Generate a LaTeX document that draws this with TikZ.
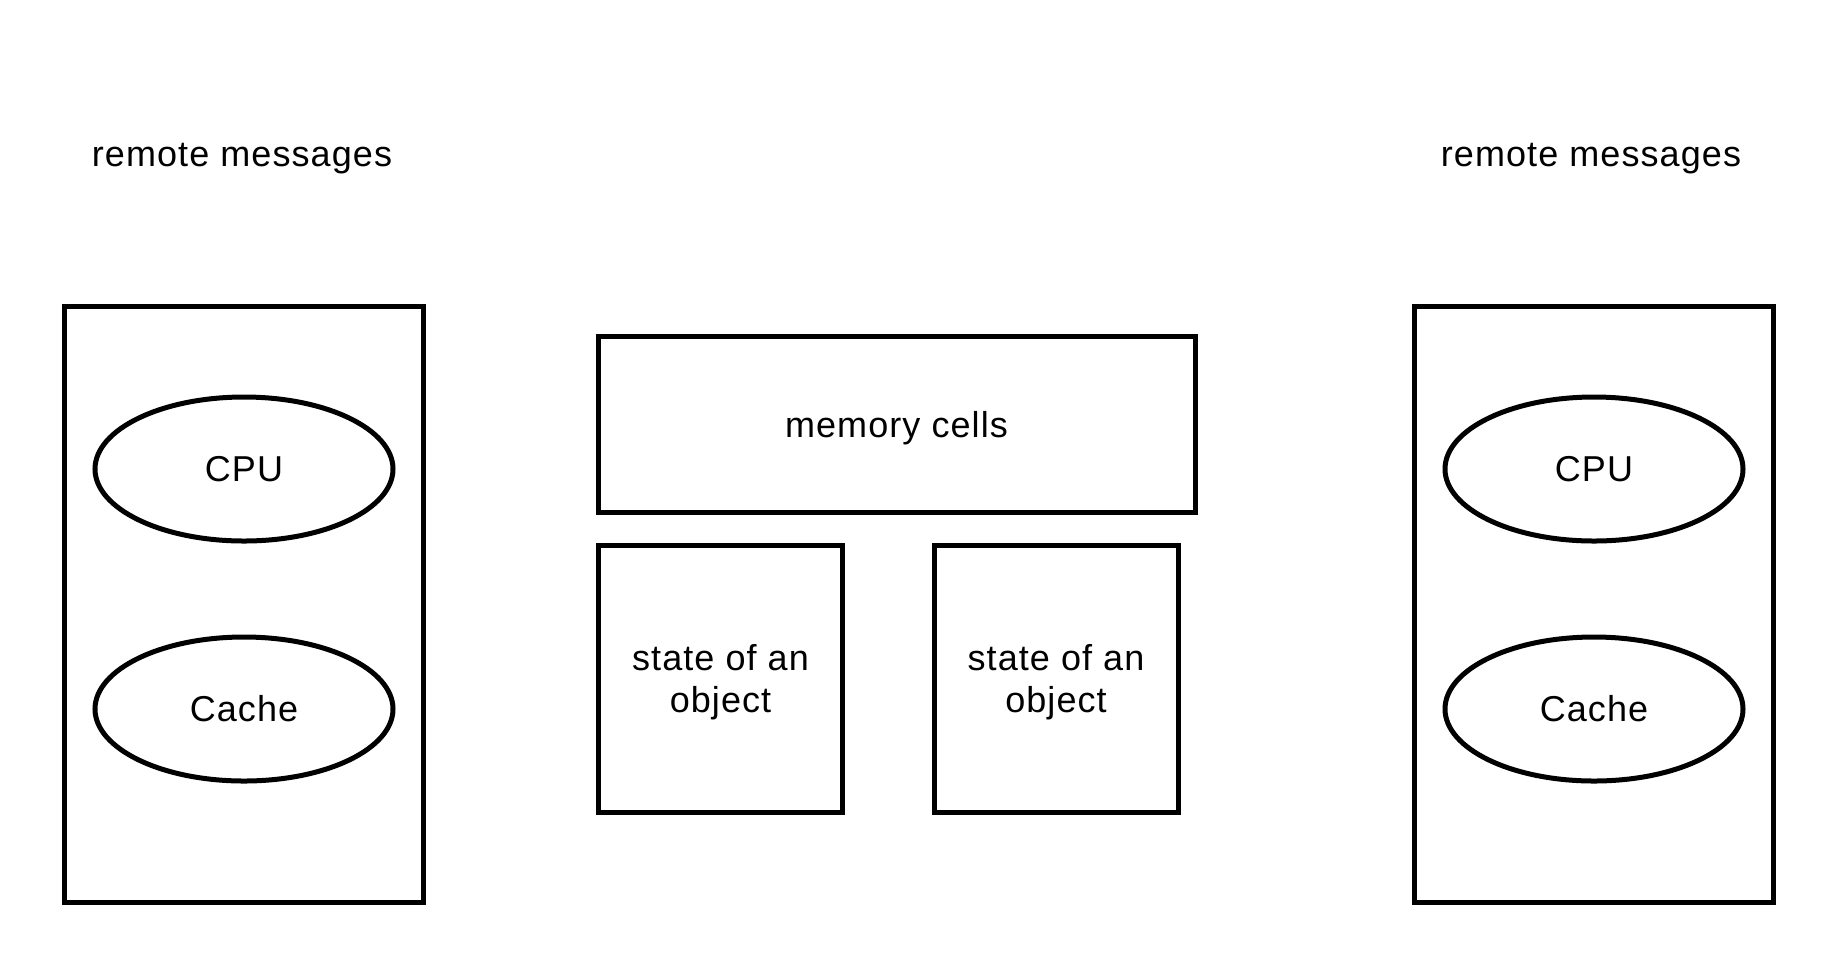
\documentclass[tikz,border=0pt]{standalone}
\usepackage{fontspec}
\setmainfont[LetterSpace=3]{Liberation Sans}
\usepackage{tikz}
\usetikzlibrary{shapes.geometric}

\tikzset{
  lbl/.style={font=\fontsize{18}{21}\selectfont, align=center},
  inlbl/.style={lbl, yshift=-2pt},
  nodebox/.style={draw, line width=2.5pt, rectangle, inner sep=0pt},
  unit/.style={draw, line width=2.5pt, ellipse, inner sep=0pt, lbl,
    minimum width=149pt, minimum height=72pt},
}

\begin{document}
\begin{tikzpicture}[x=0.5pt, y=-0.5pt]
  \useasboundingbox (0,0) rectangle (1836,966);

  % left machine
  \node[lbl] (msgL) at (242,159) {remote messages};
  \node[nodebox, minimum width=179.5pt, minimum height=298pt] (procL) at (244,604) {};
  \node[unit] (cpuL) at (244,469) {CPU};
  \node[unit] (cacheL) at (244,709) {Cache};

  % shared memory
  \node[nodebox, minimum width=298.5pt, minimum height=88pt,
    label={[inlbl]center:memory cells}] (mem) at (896.5,424) {};
  \node[nodebox, minimum width=122pt, minimum height=133.5pt,
    label={[inlbl]center:state of an\\object}] (objA) at (720.5,678.5) {};
  \node[nodebox, minimum width=122pt, minimum height=133.5pt,
    label={[inlbl]center:state of an\\object}] (objB) at (1056,678.5) {};

  % right machine
  \node[lbl] (msgR) at (1591,159) {remote messages};
  \node[nodebox, minimum width=179.5pt, minimum height=298pt] (procR) at (1594,604) {};
  \node[unit] (cpuR) at (1594,469) {CPU};
  \node[unit] (cacheR) at (1594,709) {Cache};
\end{tikzpicture}
\end{document}
